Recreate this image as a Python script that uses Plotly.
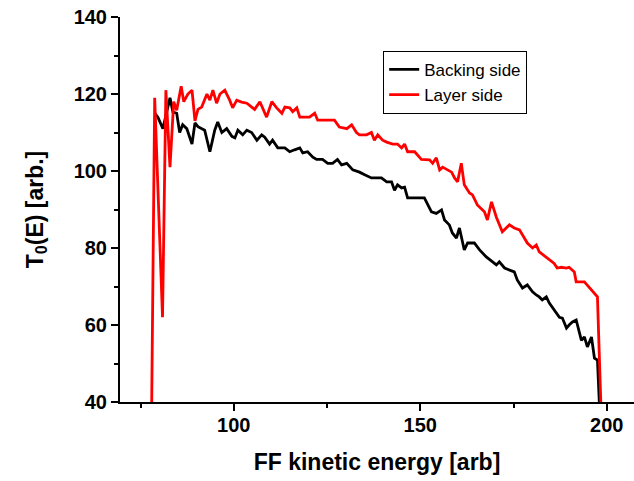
import plotly.graph_objects as go

# Backing side (black)
backing_E = [78.85, 79.65, 81.0, 82.9, 83.7, 84.7, 85.5, 86.3, 87.4, 88.8,
             89.6, 90.4, 92.2, 93.6, 94.9, 95.7, 96.8, 98.1, 99.5, 100.3,
             101.1, 102.4, 103.5, 104.8, 106.2, 107.5, 108.3, 109.6, 110.4, 111.8,
             113.7, 115.0, 116.3, 117.7, 118.5, 119.8, 121.2, 122.2, 123.8, 125.2,
             126.5, 127.8, 128.9, 130.3, 131.9, 133.7, 135.1, 136.9, 139.6, 141.0,
             142.3, 143.1, 143.9, 145.0, 145.8, 146.6, 151.1, 153.0, 154.3, 155.7,
             156.5, 157.8, 158.6, 159.7, 160.5, 161.3, 161.8, 162.7, 164.5, 165.9,
             167.7, 170.4, 171.2, 172.6, 173.9, 175.2, 176.0, 177.4, 178.7, 180.1,
             181.1, 181.9, 182.7, 183.8, 184.6, 185.9, 187.3, 188.1, 189.2, 189.9,
             190.8, 191.8, 193.2, 194.0, 194.8, 195.9, 196.7, 197.5, 198.0]
backing_T = [115, 114, 111, 119, 115.3, 115, 110, 112, 111, 107,
             112.5, 111.5, 110.6, 105, 110.6, 112.7, 110, 111, 109, 108.6,
             110.6, 109.4, 110.6, 110, 108, 109.4, 108.8, 107, 108, 106,
             106, 105, 105.5, 106, 104.7, 105, 103.6, 103, 103, 102,
             102, 103, 101.6, 102, 100.3, 99.7, 99, 98.2, 98.2, 97.2,
             97.2, 95, 96.4, 95.6, 95.8, 93, 93, 89.4, 89, 89.9,
             87.3, 86, 83.9, 82.6, 85.2, 82, 79.5, 81.3, 81.3, 79.5,
             77.7, 75.6, 76.4, 74.8, 74.3, 73.8, 71.7, 69.6, 70.4, 68.6,
             67.8, 67.3, 66.5, 67.3, 65.7, 63.9, 62, 61.8, 59.2, 60,
             60.8, 61.3, 56, 56.9, 54.3, 56.9, 51.4, 50.9, 40]

# Layer side (red)
layer_E = [78.0, 78.8, 80.9, 81.8, 82.9, 83.9, 84.7, 85.9, 86.6, 87.7,
           88.8, 89.6, 90.4, 91.4, 92.8, 93.6, 94.4, 95.4, 96.3, 97.6,
           98.9, 99.7, 100.8, 102.1, 103.5, 105.6, 107.0, 108.8, 110.2, 111.5,
           112.9, 113.7, 115.0, 115.8, 116.9, 117.7, 120.3, 121.7, 122.5, 127.0,
           128.3, 130.3, 131.6, 132.9, 133.7, 135.6, 136.9, 137.7, 138.6, 139.9,
           141.0, 142.6, 143.9, 145.0, 145.8, 146.6, 148.5, 150.3, 152.5, 153.3,
           154.3, 155.2, 156.0, 157.3, 158.4, 159.2, 160.0, 161.0, 161.8, 163.2,
           164.0, 165.3, 167.2, 168.0, 169.1, 170.4, 172.0, 173.9, 175.2, 176.6,
           178.7, 180.1, 181.1, 181.9, 184.1, 185.9, 186.7, 187.8, 189.2, 189.9,
           191.3, 191.8, 194.0, 196.1, 197.5, 198.4]
layer_T = [40, 119, 62, 121, 101, 118, 115.8, 122, 118, 120,
           121, 113, 116, 116.6, 120, 118.4, 121, 117.6, 120, 121,
           118.4, 116.4, 118.4, 117.9, 117.6, 116, 118, 114, 118, 116.4,
           115, 116.6, 116.4, 115.4, 116.4, 114, 114, 115, 113.2, 113.2,
           111.4, 111, 112, 110, 109.4, 109.4, 110, 108, 109.4, 108,
           107.5, 107, 107, 106, 107, 105, 105, 103, 102.9, 102,
           103.4, 100.3, 101, 100.3, 99.7, 98.2, 97.2, 102, 96.4, 94.3,
           93.8, 91.2, 89.4, 87.3, 92, 88, 84.2, 86, 85.2, 84.7,
           81.3, 80, 80.8, 79, 77.4, 76, 74.8, 75, 74.8, 75,
           73.8, 71.2, 71.2, 69, 67.3, 40]

x_ticks = [100, 150, 200]
y_ticks = [40, 60, 80, 100, 120, 140]

fig = go.Figure()
fig.add_trace(go.Scatter(x=backing_E, y=backing_T, mode="lines", name="Backing side",
                         line=dict(color="black", width=2.8)))
fig.add_trace(go.Scatter(x=layer_E, y=layer_T, mode="lines", name="Layer side",
                         line=dict(color="#ff0000", width=2.8)))

font_family = "Liberation Sans, Arial, sans-serif"
fig.update_layout(
    width=634, height=481,
    margin=dict(l=120, r=0, t=17, b=79),
    paper_bgcolor="white", plot_bgcolor="white",
    showlegend=True,
    legend=dict(x=0.512, y=0.912, xanchor="left", yanchor="top",
                bordercolor="black", borderwidth=1, bgcolor="white",
                font=dict(family=font_family, size=17, color="black"),
                tracegroupgap=0, entrywidth=125, entrywidthmode="pixels"),
    font=dict(family=font_family, color="black"),
)
fig.update_xaxes(
    range=[69.5, 207.3], tickmode="array", tickvals=x_ticks, automargin=False,
    ticks="outside", ticklen=7, tickwidth=2, tickcolor="black", ticklabelstandoff=-3,
    minor=dict(dtick=25, tick0=75, ticks="outside", ticklen=4, tickwidth=2, tickcolor="black"),
    showline=True, linecolor="black", linewidth=2, showgrid=False, zeroline=False,
    tickfont=dict(family=font_family, size=20, color="black", weight="bold"),
    title=dict(text="<b>FF kinetic energy [arb]</b>", font=dict(family=font_family, size=23, color="black"),
               standoff=19),
)
fig.update_yaxes(
    range=[40, 140], tickmode="array", tickvals=y_ticks, automargin=False,
    ticks="outside", ticklen=7, tickwidth=2, tickcolor="black",
    minor=dict(dtick=10, tick0=40, ticks="outside", ticklen=4, tickwidth=2, tickcolor="black"),
    showline=True, linecolor="black", linewidth=2, showgrid=False, zeroline=False,
    tickfont=dict(family=font_family, size=20, color="black", weight="bold"),
    title=dict(text="<b>T<sub>0</sub>(E) [arb.]</b>", font=dict(family=font_family, size=23, color="black"),
               standoff=24),
)
fig.write_html("out.html", config={"displayModeBar": False},
               post_script="document.body.style.margin='0';")
